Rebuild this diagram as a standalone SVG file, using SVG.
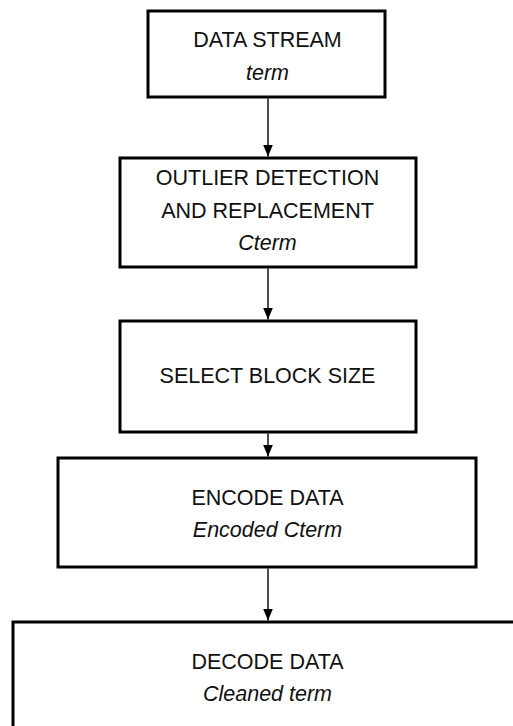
<svg xmlns="http://www.w3.org/2000/svg" width="513" height="726" viewBox="0 0 513 726">
<style>
.box{fill:#fff;stroke:#000;stroke-width:3}
.t{font-family:"Liberation Sans",Arial,sans-serif;font-size:21.5px;fill:#111;text-anchor:middle}
.i{font-style:italic}
.c{stroke:#000;stroke-width:1.4;fill:none}
</style>
<defs>
<marker id="ah" markerWidth="12" markerHeight="10" refX="12" refY="5" orient="auto" markerUnits="userSpaceOnUse">
<path d="M0,0 L12,5 L0,10 Z" fill="#000"/>
</marker>
</defs>
<rect width="513" height="726" fill="#fff"/>
<g id="n1">
<rect class="box" x="148" y="11" width="237" height="86"/>
<text class="t" x="267.5" y="47">DATA STREAM</text>
<text class="t i" x="267.5" y="80">term</text>
</g>
<g id="n2">
<rect class="box" x="120" y="158" width="296" height="109"/>
<text class="t" x="267.5" y="185">OUTLIER DETECTION</text>
<text class="t" x="267.5" y="218">AND REPLACEMENT</text>
<text class="t i" x="267.5" y="250">Cterm</text>
</g>
<g id="n3">
<rect class="box" x="120" y="321" width="296" height="111"/>
<text class="t" x="267.5" y="383">SELECT BLOCK SIZE</text>
</g>
<g id="n4">
<rect class="box" x="58" y="458" width="418" height="109"/>
<text class="t" x="267.5" y="505">ENCODE DATA</text>
<text class="t i" x="267.5" y="537">Encoded Cterm</text>
</g>
<g id="n5">
<rect class="box" x="13" y="622" width="520" height="120"/>
<text class="t" x="267.5" y="669">DECODE DATA</text>
<text class="t i" x="267.5" y="701">Cleaned term</text>
</g>
<g id="connectors">
<line class="c" x1="268" y1="98.5" x2="268" y2="156.5" marker-end="url(#ah)"/>
<line class="c" x1="268" y1="268.5" x2="268" y2="319.5" marker-end="url(#ah)"/>
<line class="c" x1="268" y1="433.5" x2="268" y2="456.5" marker-end="url(#ah)"/>
<line class="c" x1="268" y1="568.5" x2="268" y2="620.5" marker-end="url(#ah)"/>
</g>
</svg>
